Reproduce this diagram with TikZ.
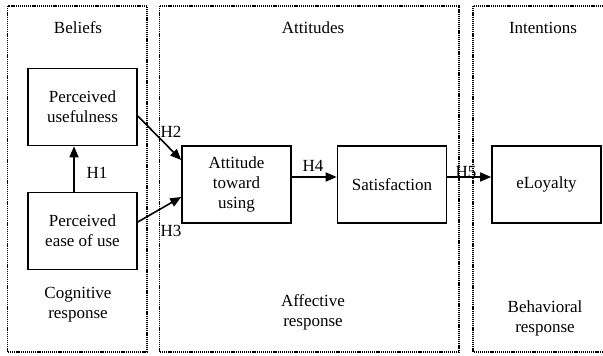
\documentclass[tikz,border=0pt]{standalone}
\usepackage{fontspec}
\setmainfont{Liberation Serif}
\usetikzlibrary{arrows.meta}
\tikzset{
  stage/.style={draw=black, line width=1.3pt, dash pattern=on 1.2pt off 0.9pt},
  construct/.style={draw=black, line width=1.6pt, minimum width=109pt, minimum height=77pt,
    align=center, inner sep=0pt, font=\fontsize{17}{20}\selectfont},
  caption/.style={align=center, font=\fontsize{17}{20}\selectfont},
  hyp/.style={font=\fontsize{17}{20}\selectfont, inner sep=0pt},
  link/.style={line width=1.6pt, -{Triangle[length=11pt,width=9pt]}}
}
\begin{document}
\begin{tikzpicture}[x=1pt,y=-1pt]
\useasboundingbox (0,0) rectangle (603,356);
\begin{scope}
\clip (0,0) rectangle (603,356);
% stage frames
\draw[stage] (7.5,6) rectangle (147,352);
\draw[stage] (159.5,6) rectangle (459,352);
\draw[stage] (473,6) rectangle (612,352);
\end{scope}

% stage headings and responses
\node[caption] (beliefs) at (78,28) {Beliefs};
\node[caption] (attitudes) at (313,28) {Attitudes};
\node[caption] (intentions) at (543,28) {Intentions};
\node[caption] (cog) at (78,305) {Cognitive\\response};
\node[caption] (aff) at (313,312) {Affective\\response};
\node[caption] (beh) at (545,318) {Behavioral\\response};

% constructs
\node[construct] (pu) at (82.5,107) {Perceived\\usefulness};
\node[construct] (pe) at (82.5,231) {Perceived\\ease of use};
\node[construct] (at) at (236.5,184.5) {Attitude\\toward\\using};
\node[construct] (sat) at (392,184.5) {Satisfaction};
\node[construct] (el) at (546.5,184.5) {eLoyalty};

% hypothesised paths
\draw[link] ([xshift=-8.5pt]pe.north) -- ([xshift=-8.5pt]pu.south);
\draw[link] ([yshift=-9pt]pu.east) -- ([yshift=24.5pt]at.west);
\draw[link] ([yshift=9pt]pe.east) -- ([yshift=-12.5pt]at.west);
\draw[link] ([yshift=7.5pt]at.east) -- ([yshift=7.5pt]sat.west);
\draw[link] ([yshift=7.5pt]sat.east) -- ([yshift=7.5pt]el.west);

% path labels
\node[hyp] (h1) at (97,173) {H1};
\node[hyp] (h2) at (171,132) {H2};
\node[hyp] (h3) at (171,231) {H3};
\node[hyp] (h4) at (313,166) {H4};
\node[hyp] (h5) at (466,172) {H5};
\end{tikzpicture}
\end{document}
